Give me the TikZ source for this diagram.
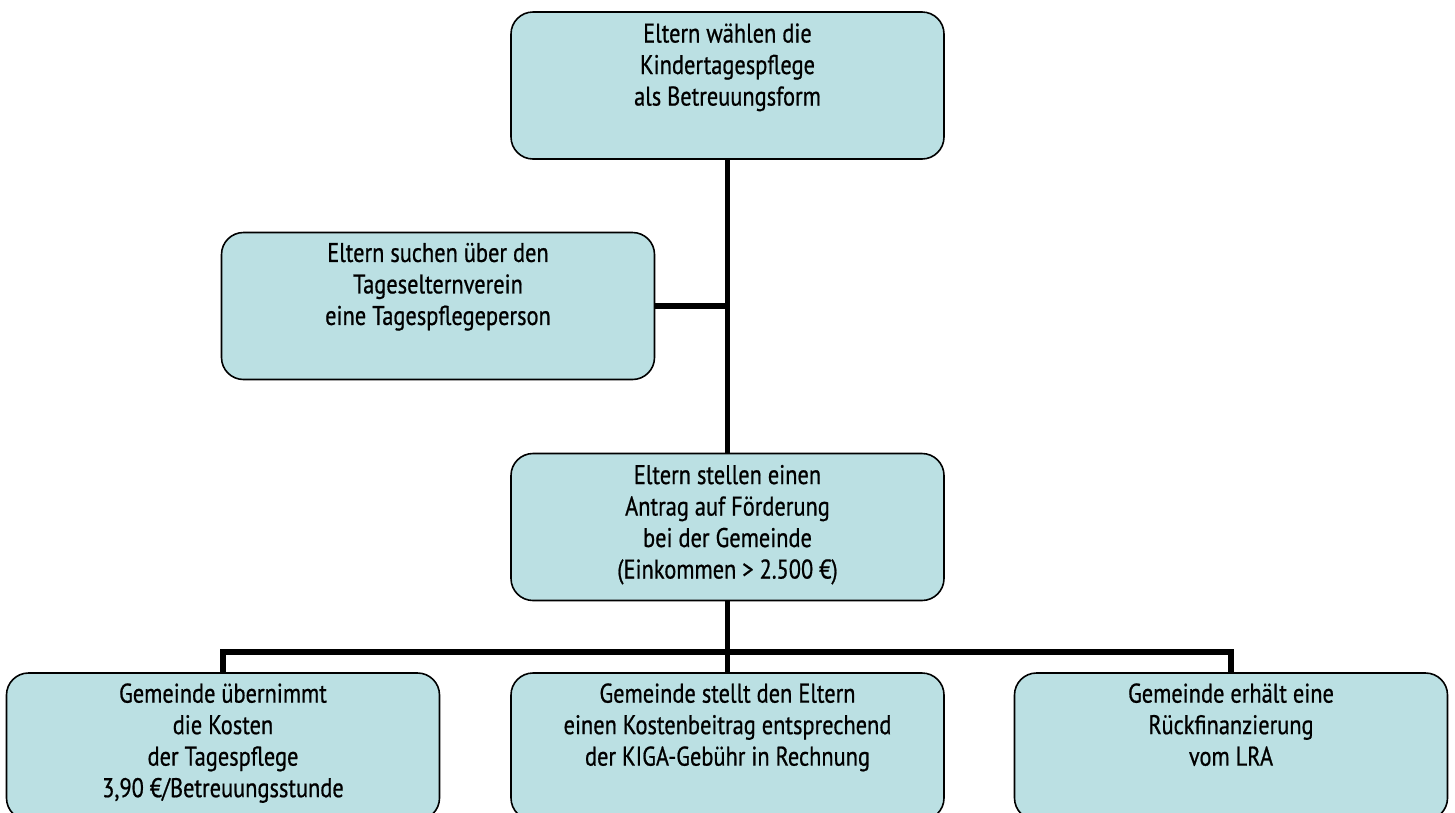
\documentclass[tikz,border=0pt]{standalone}
\usepackage{fontspec}
\setmainfont[FakeStretch=0.83,FakeBold=0.7]{PT Sans}
\definecolor{boxfill}{RGB}{187,224,227}
\tikzset{
  box/.style={draw=black, line width=1.6pt, fill=boxfill, rounded corners=22pt,
    minimum width=433pt, minimum height=147pt, inner sep=0pt},
  txt/.style={anchor=north, align=center, inner sep=0pt,
    font=\fontsize{27}{31.5}\selectfont},
  conn/.style={draw=black, line width=5.5pt}
}
\begin{document}
\begin{tikzpicture}[x=1pt,y=-1pt]
\useasboundingbox (0,0) rectangle (1455,812);
\clip (0,0) rectangle (1455,812);
% boxes
\node[box] (top) at (727.5,85.5) {};
\node[box] (left) at (438,306) {};
\node[box] (mid) at (727.5,527) {};
\node[box] (b1) at (223,746.5) {};
\node[box] (b2) at (727.5,746.5) {};
\node[box] (b3) at (1231,746.5) {};
\coordinate (bus) at (727.5,652);
% connectors
\draw[conn] (top.south) -- (mid.north);
\draw[conn] (left.east) -- (left.east -| top.south);
\draw[conn] (mid.south) -- (bus);
\draw[conn] (b1.north) -- (b1.north |- bus) -- (b3.north |- bus) -- (b3.north);
\draw[conn] (bus) -- (b2.north);
% texts
\node[txt] (ttop) at ([yshift=-12pt]top.north) {Eltern wählen die\\Kindertagespflege\\als Betreuungsform};
\node[txt] (tleft) at ([yshift=-11pt]left.north) {Eltern suchen über den\\Tageselternverein\\eine Tagespflegeperson};
\node[txt] (tmid) at ([yshift=-12pt]mid.north) {Eltern stellen einen\\Antrag auf Förderung\\bei der Gemeinde\\(Einkommen > 2.500 €)};
\node[txt] (tb1) at ([yshift=-11pt]b1.north) {Gemeinde übernimmt\\die Kosten\\der Tagespflege\\3,90 €/Betreuungsstunde};
\node[txt] (tb2) at ([yshift=-11pt]b2.north) {Gemeinde stellt den Eltern\\einen Kostenbeitrag entsprechend\\der KIGA-Gebühr in Rechnung};
\node[txt] (tb3) at ([yshift=-11pt]b3.north) {Gemeinde erhält eine\\Rückfinanzierung\\vom LRA};
\end{tikzpicture}
\end{document}
